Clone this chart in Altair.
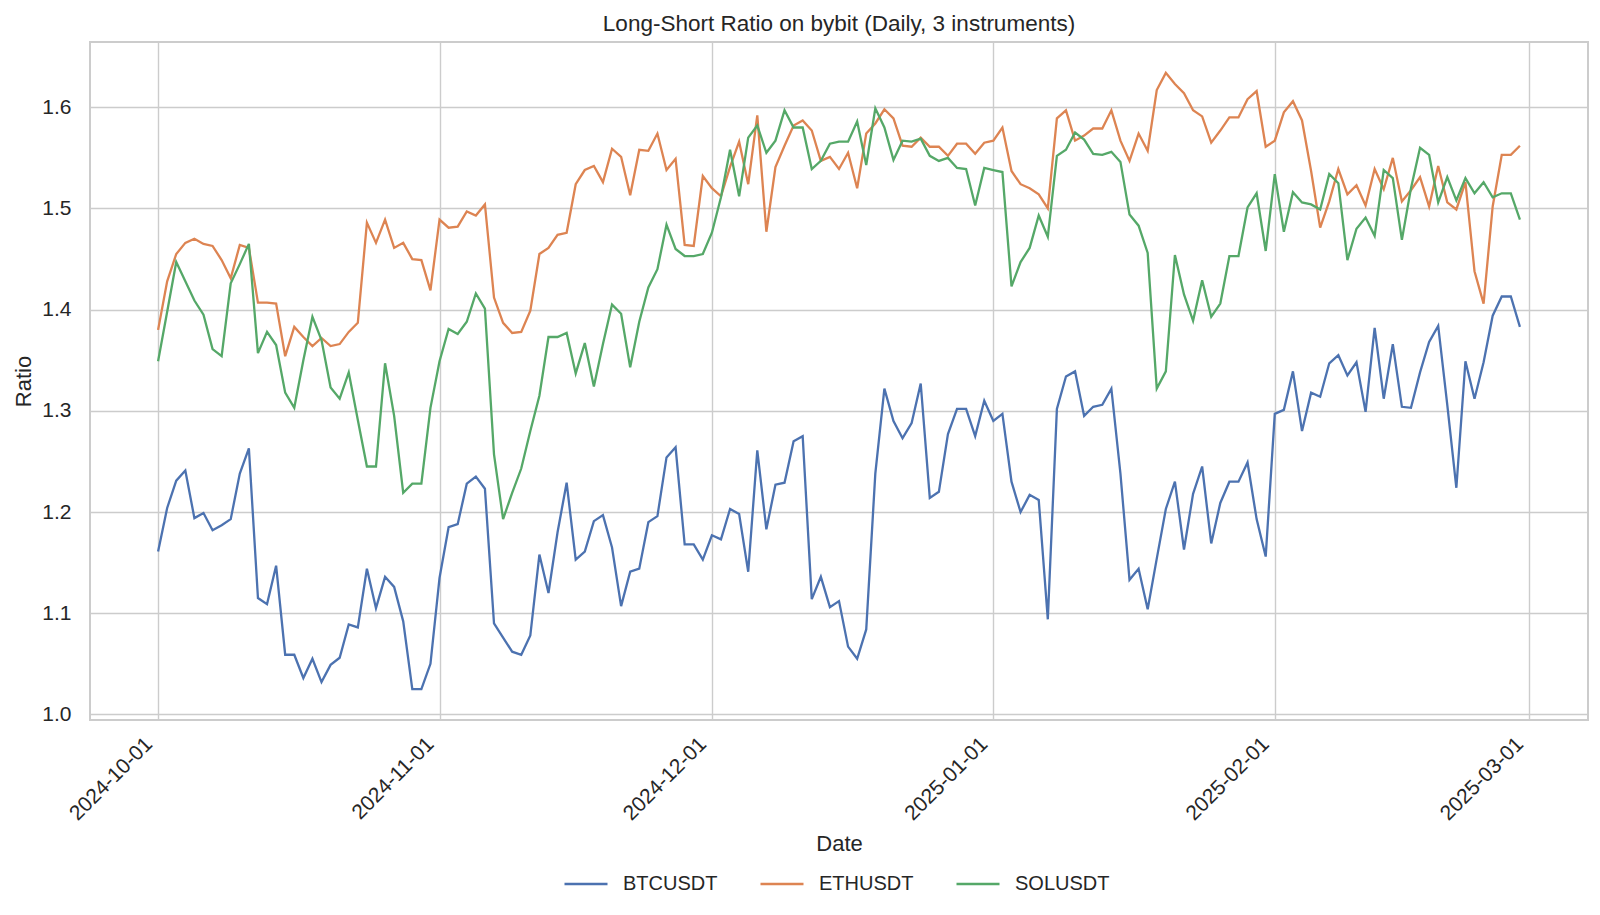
import altair as alt
import pandas as pd

start_date = "2024-10-01"
n_days = 151
instruments = ["BTCUSDT", "ETHUSDT", "SOLUSDT"]
colors = ["#4C72B0", "#DD8452", "#55A868"]

btc = [1.161, 1.204, 1.231, 1.241, 1.194, 1.199, 1.182, 1.187, 1.193, 1.238,
       1.263, 1.115, 1.109, 1.147, 1.059, 1.059, 1.036, 1.055, 1.032, 1.049,
       1.056, 1.089, 1.086, 1.144, 1.105, 1.136, 1.126, 1.092, 1.025, 1.025,
       1.050, 1.135, 1.185, 1.188, 1.228, 1.235, 1.223, 1.090, 1.076, 1.062,
       1.059, 1.078, 1.158, 1.120, 1.180, 1.229, 1.153, 1.161, 1.191, 1.197,
       1.165, 1.107, 1.141, 1.144, 1.190, 1.196, 1.254, 1.264, 1.168, 1.168,
       1.153, 1.177, 1.173, 1.203, 1.198, 1.141, 1.261, 1.183, 1.227, 1.229,
       1.270, 1.275, 1.114, 1.136, 1.106, 1.112, 1.067, 1.055, 1.084, 1.238,
       1.322, 1.290, 1.273, 1.288, 1.327, 1.214, 1.220, 1.277, 1.302, 1.302,
       1.275, 1.310, 1.290, 1.297, 1.230, 1.200, 1.217, 1.212, 1.094, 1.302,
       1.334, 1.339, 1.295, 1.304, 1.306, 1.322, 1.238, 1.133, 1.144, 1.104,
       1.154, 1.203, 1.230, 1.163, 1.218, 1.245, 1.169, 1.209, 1.230, 1.230,
       1.249, 1.193, 1.156, 1.297, 1.301, 1.339, 1.280, 1.318, 1.314, 1.347,
       1.355, 1.335, 1.348, 1.299, 1.382, 1.312, 1.366, 1.304, 1.303, 1.338,
       1.368, 1.384, 1.306, 1.224, 1.349, 1.312, 1.348, 1.394, 1.413, 1.413,
       1.383]

eth = [1.380, 1.428, 1.455, 1.466, 1.470, 1.465, 1.463, 1.449, 1.431, 1.464,
       1.461, 1.407, 1.407, 1.406, 1.354, 1.383, 1.373, 1.364, 1.372, 1.364,
       1.366, 1.378, 1.387, 1.486, 1.466, 1.489, 1.461, 1.466, 1.450, 1.449,
       1.419, 1.489, 1.481, 1.482, 1.497, 1.493, 1.504, 1.412, 1.387, 1.377,
       1.378, 1.399, 1.455, 1.461, 1.474, 1.476, 1.524, 1.538, 1.542, 1.526,
       1.559, 1.551, 1.513, 1.558, 1.557, 1.574, 1.538, 1.549, 1.464, 1.463,
       1.532, 1.520, 1.512, 1.541, 1.566, 1.524, 1.592, 1.477, 1.541, 1.562,
       1.582, 1.587, 1.577, 1.547, 1.551, 1.539, 1.555, 1.520, 1.574, 1.584,
       1.598, 1.589, 1.562, 1.561, 1.570, 1.561, 1.561, 1.552, 1.564, 1.564,
       1.554, 1.565, 1.567, 1.580, 1.537, 1.524, 1.520, 1.514, 1.500, 1.589,
       1.597, 1.567, 1.572, 1.579, 1.579, 1.597, 1.567, 1.547, 1.574, 1.557,
       1.617, 1.634, 1.623, 1.614, 1.597, 1.591, 1.565, 1.577, 1.590, 1.590,
       1.608, 1.616, 1.561, 1.567, 1.595, 1.606, 1.587, 1.537, 1.481, 1.507,
       1.539, 1.514, 1.523, 1.503, 1.539, 1.519, 1.550, 1.507, 1.518, 1.531,
       1.502, 1.542, 1.506, 1.499, 1.526, 1.438, 1.406, 1.502, 1.553, 1.553,
       1.562]

sol = [1.349, 1.398, 1.447, 1.428, 1.409, 1.395, 1.361, 1.354, 1.426, 1.445,
       1.465, 1.357, 1.378, 1.365, 1.318, 1.303, 1.350, 1.393, 1.370, 1.323,
       1.312, 1.338, 1.291, 1.245, 1.245, 1.347, 1.295, 1.219, 1.228, 1.228,
       1.303, 1.349, 1.381, 1.376, 1.388, 1.416, 1.401, 1.257, 1.193, 1.219,
       1.243, 1.280, 1.315, 1.373, 1.373, 1.377, 1.337, 1.367, 1.324, 1.366,
       1.405, 1.396, 1.343, 1.388, 1.422, 1.440, 1.484, 1.460, 1.453, 1.453,
       1.455, 1.476, 1.511, 1.558, 1.512, 1.570, 1.582, 1.555, 1.567, 1.597,
       1.580, 1.580, 1.539, 1.547, 1.564, 1.566, 1.566, 1.586, 1.543, 1.599,
       1.580, 1.548, 1.567, 1.566, 1.569, 1.552, 1.547, 1.550, 1.540, 1.539,
       1.503, 1.540, 1.538, 1.536, 1.423, 1.447, 1.461, 1.493, 1.472, 1.552,
       1.558, 1.575, 1.568, 1.554, 1.553, 1.556, 1.546, 1.494, 1.483, 1.456,
       1.322, 1.339, 1.454, 1.415, 1.389, 1.429, 1.393, 1.406, 1.453, 1.453,
       1.501, 1.515, 1.458, 1.534, 1.477, 1.516, 1.506, 1.504, 1.499, 1.534,
       1.525, 1.449, 1.480, 1.491, 1.473, 1.538, 1.530, 1.469, 1.520, 1.560,
       1.553, 1.506, 1.531, 1.508, 1.530, 1.515, 1.526, 1.511, 1.515, 1.515,
       1.489]

y_ticks = [1.0, 1.1, 1.2, 1.3, 1.4, 1.5, 1.6]
x_ticks = [(2024, 10), (2024, 11), (2024, 12), (2025, 1), (2025, 2), (2025, 3)]

dates = pd.date_range(start_date, periods=n_days, freq="D").strftime("%Y-%m-%d").tolist()
rows = []
for name, series in zip(instruments, [btc, eth, sol]):
    for d, v in zip(dates, series):
        rows.append({"Date": d, "Ratio": v, "Instrument": name})
df = pd.DataFrame(rows)

FONT = "Liberation Sans"
TXT = "#262626"

x_axis = alt.Axis(
    values=[alt.DateTime(year=y, month=m, date=1, utc=True) for y, m in x_ticks],
    labelExpr="utcFormat(datum.value, '%Y-%m-%d')",
    labelAngle=-45, labelAlign="right", labelBaseline="top", labelPadding=13,
    labelOffset=-17,
    labelFontSize=21, labelFlush=False, labelOverlap=False,
    ticks=False, domain=False, grid=True,
    title="Date", titleFontSize=22, titleY=123, titleBaseline="middle",
)
y_axis = alt.Axis(
    values=y_ticks, format=".1f", ticks=False, domain=False, grid=True,
    labelPadding=19, labelFontSize=21,
    title="Ratio", titleFontSize=22, titleX=-67, titleY=339, titleAngle=270,
    titleBaseline="middle", titleAlign="center",
)

chart = alt.Chart(df).mark_line(strokeWidth=2.3).encode(
    x=alt.X("Date:T", axis=x_axis,
            scale=alt.Scale(type="utc", domain=[
                alt.DateTime(year=2024, month=9, date=23, hours=12, utc=True),
                alt.DateTime(year=2025, month=3, date=7, hours=12, utc=True)])),
    y=alt.Y("Ratio:Q", axis=y_axis,
            scale=alt.Scale(domain=[0.9945, 1.6645], nice=False, zero=False)),
    color=alt.Color("Instrument:N",
                    scale=alt.Scale(domain=instruments, range=colors),
                    legend=alt.Legend(orient="none", legendX=473, legendY=819,
                                      direction="horizontal", title=None,
                                      symbolType="stroke", symbolSize=1849,
                                      symbolStrokeWidth=2.5, labelOffset=14,
                                      columnPadding=37, labelFontSize=20,
                                      padding=0)),
).properties(
    width=1498, height=678,
    title=alt.TitleParams(text="Long-Short Ratio on bybit (Daily, 3 instruments)",
                          fontSize=22.5, fontWeight="normal", color=TXT, font=FONT,
                          anchor="middle", baseline="bottom", offset=7, dy=23,
                          frame="group"),
    padding={"left": 82, "top": 34, "right": 4, "bottom": 180},
    autosize=alt.AutoSizeParams(type="none"),
    background="white",
).configure_view(
    stroke="#cccccc", strokeWidth=2,
).configure_axis(
    labelFont=FONT, titleFont=FONT, labelColor=TXT, titleColor=TXT,
    titleFontWeight="normal", gridColor="#cccccc", gridWidth=1.4, gridOpacity=1,
).configure_legend(
    labelFont=FONT, labelColor=TXT,
)

chart.save("out.html", embed_options={"renderer": "svg", "actions": False})
